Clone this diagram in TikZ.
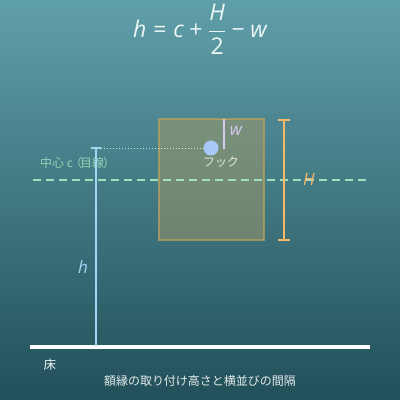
\documentclass[tikz,border=0pt]{standalone}
\usepackage{fontspec}
\setmainfont{Open Sans}
\newfontfamily\jp{Noto Sans CJK JP}
\newfontfamily\osf{Open Sans}
\definecolor{bgtop}{HTML}{5F9FA9}
\definecolor{bgbot}{HTML}{22505A}
\definecolor{hblue}{HTML}{A8D4F4}
\definecolor{cgreen}{HTML}{A4E0C0}
\definecolor{ctext}{HTML}{94D4B4}
\definecolor{frame}{HTML}{B8A060}
\definecolor{hook}{HTML}{A8C8FA}
\definecolor{wlav}{HTML}{D8C8EC}
\definecolor{Horange}{HTML}{F4B868}
\definecolor{ftext}{HTML}{EEF6F6}
\begin{document}
\begin{tikzpicture}[x=1pt,y=-1pt,
  lbl/.style={inner sep=0pt},
  itl/.style={lbl,font=\osf\itshape\fontsize{17}{17}\selectfont},
  jptext/.style={lbl,font=\jp\fontsize{11}{11}\selectfont}]
\shade[top color=bgtop,bottom color=bgbot] (0,0) rectangle (400,400);
\useasboundingbox (0,0) rectangle (400,400);
% formula
\node[lbl,text=ftext,font=\osf\fontsize{23}{23}\selectfont] (formula) at (200,29)
  {$\displaystyle\mbox{\itshape h}\mathrel{\mbox{=}}\mbox{\itshape c}\mathbin{\mbox{+}}\frac{\mbox{\itshape H}}{\mbox{2}}\mathbin{\mbox{\textminus}}\mbox{\itshape w}$};
% frame
\draw[frame,draw opacity=0.75,line width=2.5pt,fill=frame,fill opacity=0.42] (159,119) rectangle (264,240);
\node[lbl] (frm) at (211.5,179.5) {};
% green center dashed line
\coordinate (cl) at (33,180);
\coordinate (cr) at (370,180);
\draw[cgreen,line width=2.6pt,dash pattern=on 8pt off 5pt] (cl) -- (cr);
\node[jptext,text=ctext,anchor=west,font=\jp\fontsize{12}{12}\selectfont] (ctxt) at (40,163) {中心 c\kern-3pt（\kern-2pt目線\kern-1pt）};
% floor
\coordinate (fl) at (30,347);
\coordinate (fr) at (370,347);
\draw[white,line width=3.5pt] (fl) -- (fr);
\node[jptext,text=ftext,font=\jp\fontsize{12.5}{12.5}\selectfont] (yuka) at (50,365) {床};
\node[jptext,text=ftext!90!gray,font=\jp\fontsize{12}{12}\selectfont] (cap) at (200,381) {額縁の取り付け高さと横並びの間隔};
% h line
\coordinate (ht) at (96,148);
\coordinate (hb) at (96,346);
\draw[hblue,line width=2.5pt] (ht) -- (hb);
\draw[hblue,line width=2.5pt] (91,148) -- (101,148);
\node[itl,text=hblue] (hl) at (83,267) {h};
% hook
\node[circle,fill=hook,minimum size=15pt,inner sep=0pt] (hk) at (211,148) {};
\draw[white,opacity=0.75,line width=1pt,dotted] (101,148) -- (hk.west);
\node[jptext,text=white!80!gray,font=\jp\fontsize{12}{12}\selectfont] (hktxt) at (221,162) {フック};
% w
\coordinate (wt) at (224,119);
\coordinate (wb) at (224,149);
\draw[wlav,line width=2.5pt] (wt) -- (wb);
\node[itl,text=wlav] (wl) at (236,131) {w};
% H bracket
\coordinate (Ht) at (284,120);
\coordinate (Hb) at (284,240);
\draw[Horange,line width=2.5pt] (Ht) -- (Hb);
\draw[Horange,line width=2.5pt] (278,120) -- (290,120);
\draw[Horange,line width=2.5pt] (278,240) -- (290,240);
\node[itl,text=Horange] (Hl) at (309,179) {H};
\end{tikzpicture}
\end{document}
